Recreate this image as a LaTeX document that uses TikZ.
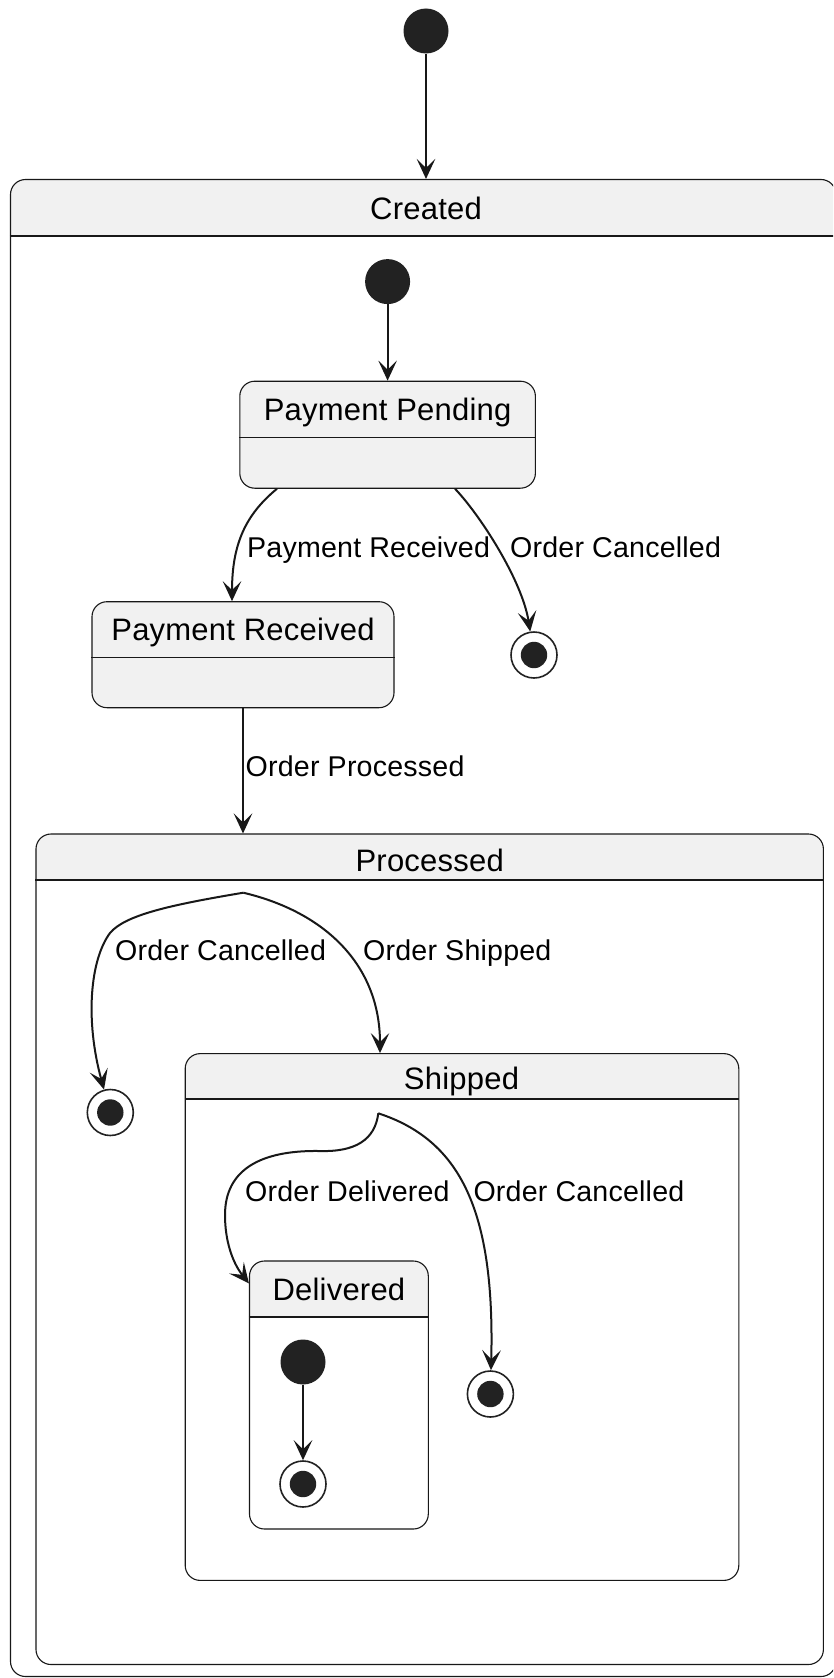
\documentclass[tikz,border=0pt]{standalone}
\usepackage{fontspec}
\setmainfont{Liberation Sans}[Kerning=Off, LetterSpace=0.7]
\usetikzlibrary{arrows.meta}
\definecolor{ink}{HTML}{181818}
\definecolor{dot}{HTML}{222222}
\definecolor{hf}{HTML}{F1F1F1}
\newcommand\stfont{\fontsize{31pt}{36pt}\selectfont}
\newcommand\lbfont{\fontsize{28.6pt}{34pt}\selectfont}
\tikzset{
  box/.style={rectangle, draw=ink, line width=1.1pt, rounded corners=15pt, inner sep=0pt},
  simple/.style={box, fill=hf},
  comp/.style={box, fill=white,
    path picture={\fill[hf, sharp corners] (path picture bounding box.north west)
      rectangle ([yshift=-#1]path picture bounding box.north east);}},
  hline/.style={draw=ink, line width=1.1pt},
  stname/.style={anchor=base, inner sep=0pt, font=\stfont, text=black},
  lbl/.style={anchor=base west, inner sep=0pt, font=\lbfont, text=black},
  init/.style={circle, fill=dot, minimum size=45pt, inner sep=0pt},
  fin/.style={circle, draw=dot, line width=1.6pt, fill=white, minimum size=46pt, inner sep=0pt,
    path picture={\fill[dot] (path picture bounding box.center) circle (13.2pt);}},
  arr/.style={draw=ink, line width=2pt, -{Stealth[length=20pt,width=18.5pt,inset=9pt]}},
}
\begin{document}
\begin{tikzpicture}[x=1pt,y=-1pt]
\useasboundingbox (0,0) rectangle (833,1678);
\clip (0,0) rectangle (833,1678);

% outer entry
\node[init] (start) at (426,31) {};

% Created
\node[comp=56.5pt, minimum width=825.5pt, minimum height=1497pt] (created) at (423.25,928) {};
\draw[hline] (created.west |- 0,236) -- (created.east |- 0,236);
\node[stname] (createdT) at (426,219.5) {Created};
\draw[arr] (start) -- (start |- created.north);

% payment states
\node[init] (i1) at (387.6,281.6) {};
\node[simple, minimum width=295.6pt, minimum height=107pt] (pp) at (387.6,434.7) {};
\draw[hline] (pp.west |- 0,437.9) -- (pp.east |- 0,437.9);
\node[stname] (ppT) at (387.6,420.5) {Payment Pending};
\draw[arr] (i1) -- (pp);

\node[simple, minimum width=302pt, minimum height=106pt] (pr) at (243,654.7) {};
\draw[hline] (pr.west |- 0,657.4) -- (pr.east |- 0,657.4);
\node[stname] (prT) at (243,640.7) {Payment Received};

\node[fin] (f1) at (534,655) {};

\draw[arr] (pp.south -| 277,0) .. controls (245,515) and (232,545) .. (pr.north -| 232,0);
\node[lbl] (l1) at (247,557) {Payment Received};
\draw[arr] (pp.south -| 455,0) .. controls (480,515) and (522,580) .. (f1);
\node[lbl] (l2) at (510,557) {Order Cancelled};

% Processed
\node[comp=46pt, minimum width=787.4pt, minimum height=830.5pt] (proc) at (429.7,1249.25) {};
\draw[hline] (proc.west |- 0,880) -- (proc.east |- 0,880);
\node[stname] (procT) at (429.7,871) {Processed};
\draw[arr] (pr) -- (proc.north -| pr);
\node[lbl] (l3) at (245.5,776) {Order Processed};

\coordinate (pj) at (243.3,892.7);
\node[fin] (f2) at (110.3,1112.5) {};
\draw[arr] (pj) .. controls (170,905) and (125,915) .. (110,933)
  .. controls (90,960) and (85,1020) .. (f2);
\node[lbl] (l4) at (115,960) {Order Cancelled};

% Shipped
\node[comp=45.5pt, minimum width=553.6pt, minimum height=526.8pt] (ship) at (462,1317) {};
\draw[hline] (ship.west |- 0,1099) -- (ship.east |- 0,1099);
\node[stname] (shipT) at (461.5,1089.5) {Shipped};
\draw[arr] (pj) .. controls (325,912) and (380,965) .. (ship.north -| 380,0);
\node[lbl] (l5) at (363,960) {Order Shipped};

\coordinate (sj) at (378.3,1113.3);

% Delivered
\node[comp=56pt, minimum width=178.8pt, minimum height=268pt] (del) at (338.9,1395) {};
\draw[hline] (del.west |- 0,1317) -- (del.east |- 0,1317);
\node[stname] (delT) at (338.9,1300) {Delivered};
\draw[arr] (sj) .. controls (375,1140) and (355,1152) .. (320,1151)
  .. controls (260,1150) and (225,1170) .. (225,1215)
  .. controls (225,1240) and (232,1262) .. ([yshift=-23pt]del.north west);
\node[lbl] (l6) at (245,1201) {Order Delivered};

\node[fin] (f3) at (490.4,1394) {};
\draw[arr] (sj) .. controls (460,1140) and (495,1210) .. (f3);
\node[lbl] (l7) at (473.3,1201) {Order Cancelled};

\node[init] (i2) at (303,1362) {};
\node[fin] (f4) at (303,1484) {};
\draw[arr] (i2) -- (f4);
\end{tikzpicture}
\end{document}
